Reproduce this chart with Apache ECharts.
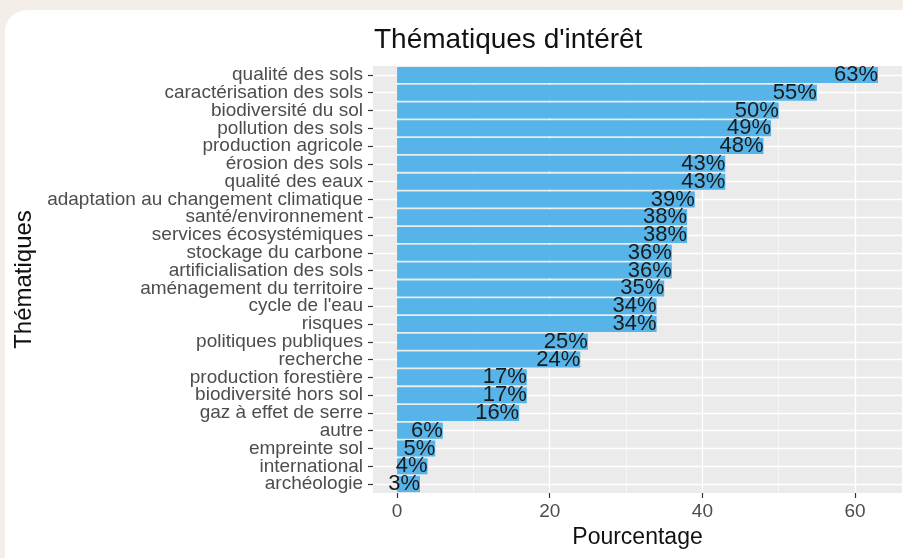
<!DOCTYPE html>
<html>
<head>
<meta charset="utf-8">
<script src="https://cdn.jsdelivr.net/npm/echarts@6/dist/echarts.min.js"></script>
<style>
html,body{margin:0;padding:0;background:#f3eee8;}
#chart{width:903px;height:558px;}
</style>
</head>
<body>
<div id="chart"></div>
<script>
// Data (top to bottom)
var categories = [
  "qualité des sols", "caractérisation des sols", "biodiversité du sol", "pollution des sols",
  "production agricole", "érosion des sols", "qualité des eaux", "adaptation au changement climatique",
  "santé/environnement", "services écosystémiques", "stockage du carbone", "artificialisation des sols",
  "aménagement du territoire", "cycle de l'eau", "risques", "politiques publiques",
  "recherche", "production forestière", "biodiversité hors sol", "gaz à effet de serre",
  "autre", "empreinte sol", "international", "archéologie"
];
var values = [63, 55, 50, 49, 48, 43, 43, 39, 38, 38, 36, 36, 35, 34, 34, 25, 24, 17, 17, 16, 6, 5, 4, 3];
var majorTicks = [0, 20, 40, 60];
var minorTicks = [10, 30, 50];
var xMin = -3.15, xMax = 66.15;

var FONT = "'Liberation Sans', Arial, Helvetica, sans-serif";
var chart = echarts.init(document.getElementById('chart'), null, {renderer: 'canvas'});
chart.setOption({
  backgroundColor: '#f3eee8',
  animation: false,
  graphic: {
    elements: [{
      type: 'rect', z: -100, silent: true,
      shape: {x: 5, y: 10, width: 940, height: 580, r: 22},
      style: {fill: '#ffffff'}
    }]
  },
  title: {
    text: "Thématiques d'intérêt",
    left: 369, top: 21,
    textStyle: {fontFamily: FONT, fontSize: 28, fontWeight: 'normal', color: '#111'}
  },
  grid: {
    left: 373, top: 66, right: 1, bottom: 65,
    show: true, backgroundColor: '#ebebeb', borderWidth: 0,
    containLabel: false
  },
  xAxis: [{
    type: 'value', min: xMin, max: xMax, position: 'bottom',
    axisLine: {show: false, onZero: false},
    axisTick: {show: true, customValues: majorTicks, length: 5, lineStyle: {color: '#333', width: 1.2}},
    axisLabel: {customValues: majorTicks, margin: 9, color: '#4d4d4d', fontFamily: FONT, fontSize: 19},
    splitLine: {show: true, lineStyle: {color: '#ffffff', width: 1.3}},
    name: 'Pourcentage', nameLocation: 'middle', nameGap: 32,
    nameTextStyle: {fontFamily: FONT, fontSize: 23, color: '#111'}
  }, {
    type: 'value', min: xMin, max: xMax, position: 'top',
    axisLine: {show: false, onZero: false},
    axisTick: {show: false, customValues: minorTicks},
    axisLabel: {show: false, customValues: minorTicks},
    splitLine: {show: true, lineStyle: {color: '#ffffff', width: 0.6}}
  }],
  yAxis: {
    type: 'category', data: categories, inverse: true,
    axisLine: {show: false, onZero: false},
    axisTick: {show: true, alignWithLabel: true, length: 5, lineStyle: {color: '#333', width: 1.2}},
    axisLabel: {interval: 0, margin: 10, color: '#4d4d4d', fontFamily: FONT, fontSize: 19},
    splitLine: {show: false},
    name: 'Thématiques', nameLocation: 'middle', nameGap: 333, nameRotate: 90,
    nameTextStyle: {fontFamily: FONT, fontSize: 24, color: '#111'}
  },
  series: [{
    type: 'line', xAxisIndex: 0, yAxisIndex: 0, data: [], z: 0, silent: true,
    markLine: {
      silent: true, symbol: ['none', 'none'], animation: false, z: 0,
      label: {show: false},
      lineStyle: {color: '#ffffff', width: 1.3, type: 'solid'},
      data: categories.map(function (c) { return {yAxis: c}; })
    }
  }, {
    type: 'bar', xAxisIndex: 0, yAxisIndex: 0, z: 10,
    data: values, barWidth: '90%',
    itemStyle: {color: '#56b4e9'},
    label: {
      show: true, position: 'insideRight', distance: 0,
      formatter: function (p) { return p.value + '%'; },
      fontFamily: FONT, fontSize: 22, color: '#1a1a1a'
    }
  }]
});
</script>
</body>
</html>
